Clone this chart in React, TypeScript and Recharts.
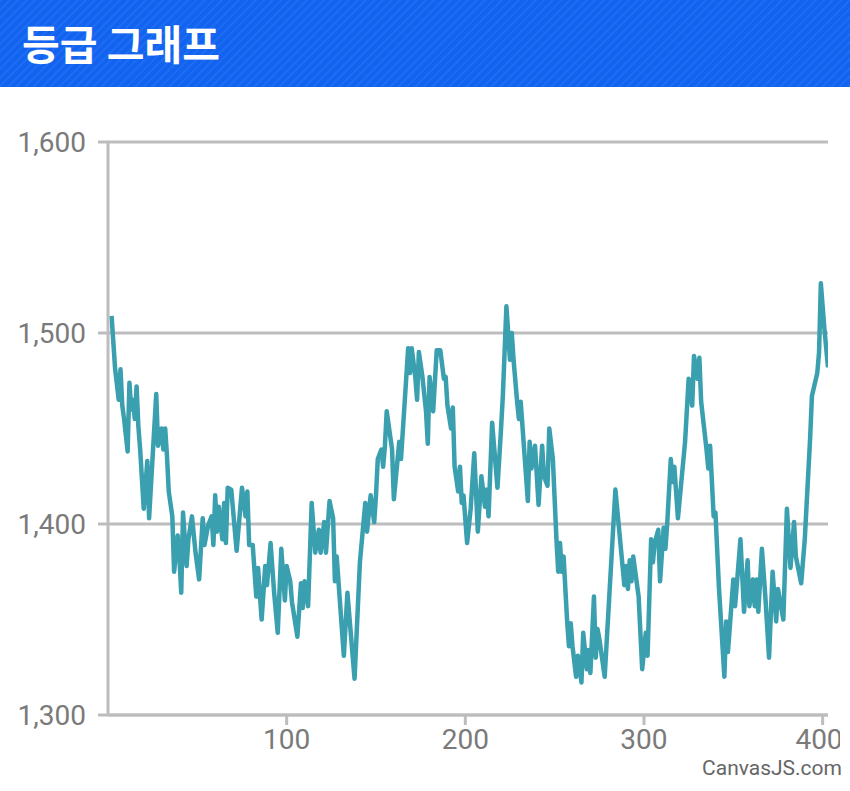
import React from 'react';
import { LineChart, Line, XAxis, YAxis, CartesianGrid } from 'recharts';

// x positions (game index) and rating values
const xValues = [
  2, 4, 6, 7, 8, 9, 11, 12, 13, 14, 15, 16, 17, 18, 20, 22, 23, 27, 28, 30,
  31, 32, 33, 34, 36, 37, 39, 40, 41, 42, 44, 45, 47, 49, 51, 53, 54, 56, 58, 59,
  60, 61, 62, 64, 65, 66, 67, 69, 72, 75, 77, 78, 79, 81, 83, 84, 86, 88, 89, 91,
  93, 95, 97, 99, 100, 102, 103, 106, 108, 109, 110, 112, 114, 116, 118, 119, 121, 122, 124, 126,
  127, 128, 132, 134, 138, 141, 144, 145, 147, 149, 150, 151, 153, 154, 155, 156, 159, 160, 163, 164,
  168, 169, 170, 172, 173, 174, 176, 178, 179, 180, 182, 184, 186, 188, 189, 190, 192, 193, 194, 196,
  197, 198, 199, 201, 203, 205, 207, 209, 211, 212, 213, 215, 218, 220, 221, 223, 225, 226, 227, 229,
  230, 231, 235, 236, 237, 239, 241, 243, 244, 246, 247, 249, 251, 252, 253, 254, 255, 257, 258, 259,
  260, 262, 263, 265, 266, 268, 269, 270, 272, 273, 274, 275, 278, 284, 288, 289, 290, 291, 292, 293,
  294, 297, 299, 301, 302, 304, 305, 306, 308, 309, 311, 312, 313, 315, 316, 317, 319, 323, 325, 327,
  328, 330, 331, 332, 335, 336, 337, 339, 340, 342, 345, 346, 347, 350, 351, 354, 356, 358, 359, 361,
  362, 363, 364, 366, 368, 370, 372, 374, 375, 378, 380, 382, 384, 385, 388, 390, 393, 394, 397, 398,
  399, 401, 403,
];

const ratings = [
  1509, 1481, 1465, 1481, 1462, 1455, 1438, 1474, 1460, 1465, 1455, 1472, 1451, 1439, 1408, 1433, 1403, 1468, 1441, 1450,
  1439, 1450, 1436, 1417, 1404, 1375, 1394, 1382, 1364, 1406, 1378, 1392, 1404, 1385, 1371, 1403, 1389, 1399, 1404, 1389,
  1415, 1396, 1409, 1392, 1411, 1390, 1419, 1418, 1386, 1419, 1404, 1417, 1389, 1389, 1362, 1377, 1350, 1378, 1368, 1390,
  1364, 1343, 1387, 1360, 1378, 1370, 1359, 1341, 1369, 1356, 1370, 1357, 1411, 1385, 1397, 1385, 1401, 1385, 1412, 1403,
  1370, 1383, 1331, 1364, 1319, 1380, 1411, 1396, 1415, 1401, 1415, 1434, 1439, 1430, 1441, 1459, 1439, 1413, 1443, 1434,
  1492, 1479, 1492, 1477, 1465, 1490, 1477, 1459, 1442, 1477, 1459, 1491, 1491, 1476, 1477, 1462, 1450, 1461, 1430, 1417,
  1430, 1411, 1415, 1390, 1408, 1437, 1396, 1425, 1409, 1418, 1404, 1453, 1419, 1450, 1467, 1514, 1486, 1500, 1486, 1464,
  1455, 1464, 1412, 1443, 1429, 1441, 1410, 1441, 1425, 1420, 1450, 1434, 1392, 1375, 1390, 1375, 1383, 1349, 1336, 1348,
  1336, 1320, 1331, 1317, 1343, 1324, 1334, 1322, 1362, 1330, 1345, 1340, 1320, 1418, 1378, 1368, 1378, 1366, 1381, 1370,
  1383, 1362, 1324, 1343, 1331, 1392, 1380, 1390, 1397, 1370, 1398, 1387, 1400, 1434, 1422, 1430, 1403, 1443, 1476, 1462,
  1488, 1476, 1487, 1464, 1439, 1429, 1441, 1404, 1406, 1366, 1320, 1349, 1333, 1371, 1357, 1392, 1354, 1381, 1357, 1371,
  1357, 1371, 1354, 1387, 1361, 1330, 1375, 1349, 1366, 1350, 1408, 1377, 1401, 1383, 1369, 1392, 1445, 1467, 1479, 1490,
  1526, 1502, 1482,
];

const yTicks = [1300, 1400, 1500, 1600];
const xTicks = [100, 200, 300, 400];

const GRID = '#BDBDBD';
const LABEL = '#7A7A7A';

export default function App() {
  const data = xValues.map((x, i) => ({ x, rating: ratings[i] }));

  const tickStyle = { fontSize: 28, fill: LABEL, fontFamily: 'Roboto, sans-serif' };

  return (
    <div style={{ position: 'absolute', top: 0, left: 0, width: 850, height: 791, background: '#fff', overflow: 'hidden' }}>
      {/* Header bar */}
      <div
        style={{
          height: 87,
          background:
            'repeating-linear-gradient(135deg, rgba(255,255,255,0.05) 0px, rgba(255,255,255,0.05) 2px, rgba(0,0,0,0) 2px, rgba(0,0,0,0) 6px), #1264F0',
          color: '#fff',
          fontFamily: '"Noto Sans CJK KR", sans-serif',
          fontWeight: 700,
          fontSize: 41,
          lineHeight: '84px',
          paddingLeft: 22,
          boxSizing: 'border-box',
        }}
      >
        등급 그래프
      </div>

      <LineChart
        width={840}
        height={704}
        data={data}
        margin={{ top: 55, right: 12, left: 0, bottom: 36 }}
      >
        <CartesianGrid horizontal vertical={false} stroke={GRID} strokeWidth={3} />
        <XAxis
          dataKey="x"
          type="number"
          domain={[0, 403]}
          ticks={xTicks}
          allowDataOverflow
          height={40}
          tick={tickStyle}
          tickSize={10}
          tickMargin={4}
          stroke={GRID}
          strokeWidth={3}
        />
        <YAxis
          type="number"
          domain={[1300, 1600]}
          ticks={yTicks}
          width={108}
          tick={tickStyle}
          tickSize={10}
          tickMargin={12}
          tickFormatter={(v: number) => v.toLocaleString('en-US')}
          stroke={GRID}
          strokeWidth={3}
        />
        <Line
          type="linear"
          dataKey="rating"
          stroke="#3A9FAE"
          strokeWidth={4.5}
          strokeLinejoin="round"
          dot={false}
          isAnimationActive={false}
        />
      </LineChart>

      {/* Watermark */}
      <div
        style={{
          position: 'absolute',
          right: 8,
          top: 756,
          fontFamily: 'Roboto, sans-serif',
          fontSize: 21,
          color: '#666',
        }}
      >
        CanvasJS.com
      </div>
    </div>
  );
}
